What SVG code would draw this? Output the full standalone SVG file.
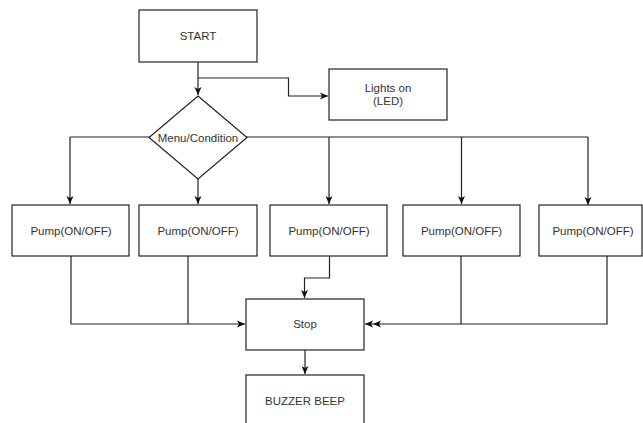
<svg xmlns="http://www.w3.org/2000/svg" width="643" height="423" viewBox="0 0 643 423">
<defs>
<style>
.box{fill:#fff;stroke:#222;stroke-width:1.2}
.t{font-family:"Liberation Sans",Arial,sans-serif;font-size:11.5px;fill:#333;text-anchor:middle}
.c{fill:none;stroke:#222;stroke-width:1.2}
</style>
<marker id="ah" markerWidth="10" markerHeight="8" refX="8" refY="4" orient="auto" markerUnits="userSpaceOnUse">
<path d="M0,0.5 L8,4 L0,7.5 L2,4 Z" fill="#111"/>
</marker>
</defs>
<rect width="643" height="423" fill="#fff"/>
<g id="connectors">
<path class="c" d="M198,62 V95" marker-end="url(#ah)"/>
<path class="c" d="M198,78 H288.5 V96 H328" marker-end="url(#ah)"/>
<path class="c" d="M70,137 H588"/>
<path class="c" d="M70,137 V204" marker-end="url(#ah)"/>
<path class="c" d="M198,179 V204" marker-end="url(#ah)"/>
<path class="c" d="M329,137 V204" marker-end="url(#ah)"/>
<path class="c" d="M461.5,137 V204" marker-end="url(#ah)"/>
<path class="c" d="M588,137 V205" marker-end="url(#ah)"/>
<path class="c" d="M71,256 V324 H245" marker-end="url(#ah)"/>
<path class="c" d="M188,256 V324"/>
<path class="c" d="M329.5,256 V278 H304.5 V298" marker-end="url(#ah)"/>
<path class="c" d="M607,256 V324 H365" marker-end="url(#ah)"/>
<path class="c" d="M461,256 V324"/>
<path d="M381,320.5 L373,324 L381,327.5 L379,324 Z" fill="#111"/>
<path class="c" d="M305,350 V374" marker-end="url(#ah)"/>
</g>
<g id="start"><rect class="box" x="139" y="10" width="118" height="52"/><text class="t" x="198" y="40">START</text></g>
<g id="lights"><rect class="box" x="329" y="69" width="118" height="51"/><text class="t" x="388" y="92">Lights on</text><text class="t" x="388" y="105">(LED)</text></g>
<g id="menu"><path class="box" d="M198,96 L247,137.5 L198,179 L149,137.5 Z"/><text class="t" x="198" y="141.5">Menu/Condition</text></g>
<g id="pump1"><rect class="box" x="12" y="205" width="117" height="51"/><text class="t" x="71" y="235">Pump(ON/OFF)</text></g>
<g id="pump2"><rect class="box" x="139" y="205" width="118" height="51"/><text class="t" x="198" y="235">Pump(ON/OFF)</text></g>
<g id="pump3"><rect class="box" x="270" y="205" width="117" height="51"/><text class="t" x="329" y="235">Pump(ON/OFF)</text></g>
<g id="pump4"><rect class="box" x="403" y="205" width="117" height="51"/><text class="t" x="461.5" y="235">Pump(ON/OFF)</text></g>
<g id="pump5"><rect class="box" x="539" y="205" width="103" height="51"/><text class="t" x="593" y="235">Pump(ON/OFF)</text></g>
<g id="stop"><rect class="box" x="246" y="299" width="118" height="51"/><text class="t" x="305" y="328">Stop</text></g>
<g id="buzzer"><rect class="box" x="246" y="375" width="118" height="60"/><text class="t" x="305" y="405">BUZZER BEEP</text></g>
</svg>
